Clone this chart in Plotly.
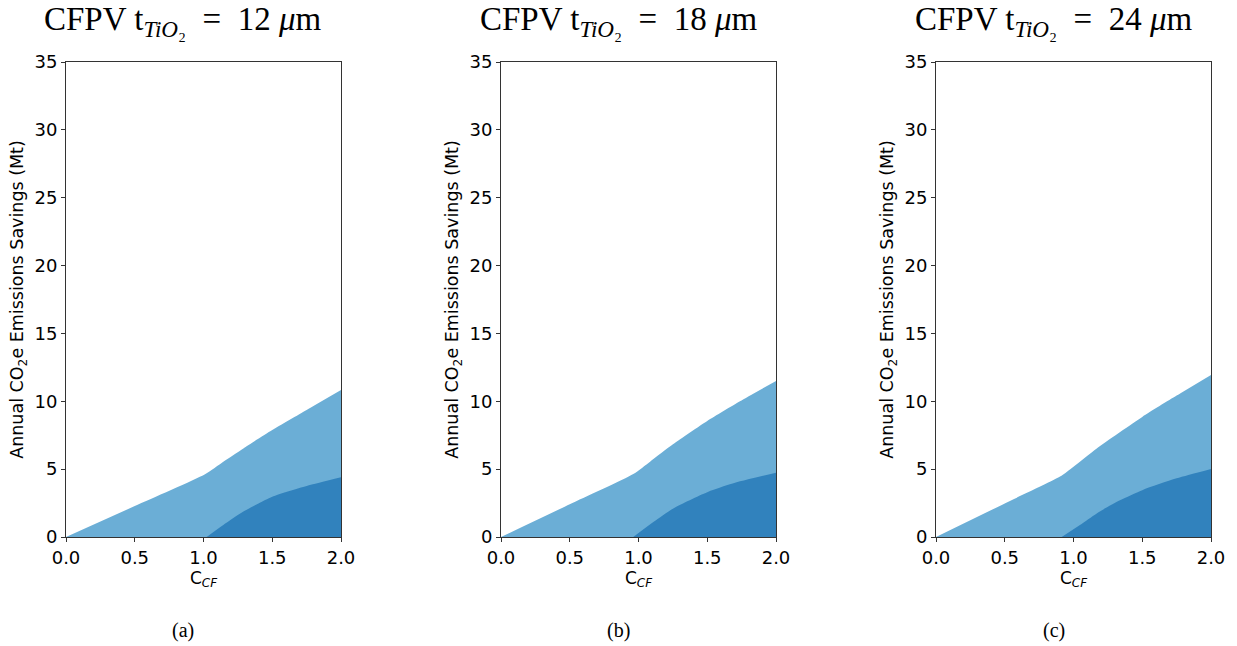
import plotly.graph_objects as go

# Annual CO2e savings (Mt) vs C_CF for three TiO2 thicknesses
thickness_um = [12, 18, 24]
panel_tags = ["(a)", "(b)", "(c)"]

# upper band (light fill)
upper_x_12 = [0.0, 0.5, 1.011, 1.144, 1.29, 1.5, 1.75, 2.0]
upper_y_12 = [0.0, 2.28, 4.62, 5.55, 6.53, 7.88, 9.36, 10.83]
upper_x_18 = [0.0, 0.5, 0.962, 1.084, 1.253, 1.5, 1.738, 2.0]
upper_y_18 = [0.0, 2.41, 4.64, 5.55, 6.85, 8.55, 10.0, 11.49]
upper_x_24 = [0.0, 0.5, 0.902, 1.0, 1.169, 1.5, 1.75, 2.0]
upper_y_24 = [0.0, 2.47, 4.45, 5.18, 6.53, 8.85, 10.42, 11.94]

# lower band (dark fill)
lower_x_12 = [1.023, 1.144, 1.29, 1.4, 1.5, 1.75, 2.0]
lower_y_12 = [0.0, 0.88, 1.87, 2.47, 2.97, 3.76, 4.40]
lower_x_18 = [0.962, 1.108, 1.253, 1.5, 1.738, 2.0]
lower_y_18 = [0.0, 1.1, 2.1, 3.3, 4.1, 4.74]
lower_x_24 = [0.914, 1.047, 1.169, 1.338, 1.5, 1.75, 2.0]
lower_y_24 = [0.0, 0.88, 1.74, 2.7, 3.45, 4.32, 5.01]

uppers = [(upper_x_12, upper_y_12), (upper_x_18, upper_y_18), (upper_x_24, upper_y_24)]
lowers = [(lower_x_12, lower_y_12), (lower_x_18, lower_y_18), (lower_x_24, lower_y_24)]

x_ticks = [0.0, 0.5, 1.0, 1.5, 2.0]
y_ticks = [0, 5, 10, 15, 20, 25, 30, 35]

LIGHT = "#6baed6"
DARK = "#3182bd"

W, H = 1237, 646
x_domains = [(66, 341), (501, 776), (936, 1211)]
y_top, y_bot = 62, 537

fig = go.Figure()
layout = dict(
    width=W, height=H,
    margin=dict(l=0, r=0, t=0, b=0, autoexpand=False),
    paper_bgcolor="white", plot_bgcolor="white",
    showlegend=False,
    font=dict(family="DejaVu Sans", color="black"),
)
annotations = []

for i in range(3):
    sfx = "" if i == 0 else str(i + 1)
    xa, ya = "x" + sfx, "y" + sfx
    ux, uy = uppers[i]
    lx, ly = lowers[i]
    fig.add_trace(go.Scatter(x=ux, y=uy, mode="lines", fill="tozeroy",
                             line=dict(width=0, shape="spline", smoothing=0.6, color=LIGHT),
                             fillcolor=LIGHT, xaxis=xa, yaxis=ya, hoverinfo="skip"))
    fig.add_trace(go.Scatter(x=lx, y=ly, mode="lines", fill="tozeroy",
                             line=dict(width=0, shape="spline", smoothing=0.7, color=DARK),
                             fillcolor=DARK, xaxis=xa, yaxis=ya, hoverinfo="skip"))
    x0, x1 = x_domains[i]
    axis_common = dict(showgrid=False, zeroline=False, showline=True, mirror=True,
                       linecolor="#333333", linewidth=1, ticks="outside", ticklen=4,
                       tickcolor="#333333", automargin=False,
                       tickfont=dict(size=18, family="DejaVu Sans"))
    layout["xaxis" + sfx] = dict(
        domain=[x0 / W, x1 / W], range=[0, 2], anchor=ya,
        tickvals=x_ticks, ticktext=[f"{v:.1f}" for v in x_ticks],
        title=dict(text="C<sub><i>CF</i></sub>", font=dict(size=17), standoff=4),
        **axis_common)
    layout["yaxis" + sfx] = dict(
        domain=[1 - y_bot / H, 1 - y_top / H], range=[0, 35], anchor=xa,
        tickvals=y_ticks,
        title=dict(text="Annual CO<sub>2</sub>e Emissions Savings (Mt)", font=dict(size=17.5), standoff=6),
        **axis_common)
    cx = (x0 + x1) / 2 - 20
    annotations.append(dict(
        text=f"CFPV t<sub><i>TiO</i>₂</sub>  =  {thickness_um[i]} <i>μ</i>m",
        x=cx / W, y=1 - 22 / H, xref="paper", yref="paper",
        xanchor="center", yanchor="middle", showarrow=False,
        font=dict(size=33, family="Liberation Serif")))
    annotations.append(dict(
        text=panel_tags[i], x=cx / W, y=1 - 630 / H, xref="paper", yref="paper",
        xanchor="center", yanchor="middle", showarrow=False,
        font=dict(size=20, family="Liberation Serif")))

layout["annotations"] = annotations
fig.update_layout(**layout)
fig.write_html("out.html")
